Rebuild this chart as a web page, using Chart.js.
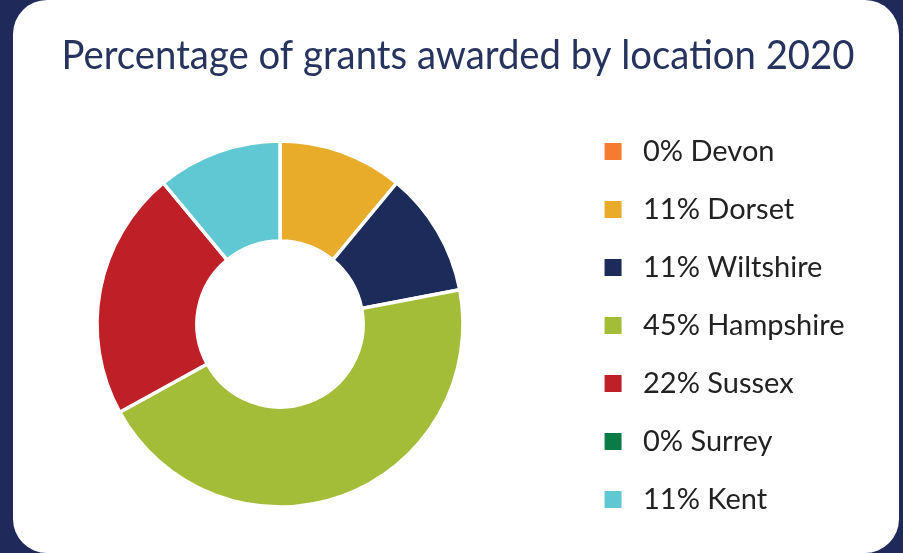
<!DOCTYPE html>
<html>
<head>
<meta charset="utf-8">
<script src="https://cdn.jsdelivr.net/npm/chart.js@4.4.1/dist/chart.umd.min.js"></script>
<style>
    html, body { margin: 0; padding: 0; }
    body { width: 903px; height: 553px; background: #1f2a5b; position: relative; overflow: hidden; }
    .card { position: absolute; left: 13px; top: 0; width: 886px; height: 553px; background: #fff; border-radius: 34px; overflow: hidden; }
</style>
</head>
<body>
<div class="card">
    <canvas id="grants-chart" width="886" height="553"></canvas>
</div>
<script>
// Chart data
const locations = ['Devon', 'Dorset', 'Wiltshire', 'Hampshire', 'Sussex', 'Surrey', 'Kent'];
const percentages = [0, 11, 11, 45, 22, 0, 11];
const sliceColours = ['#f47b30', '#e8ac2a', '#1c2b59', '#a3bd39', '#bf1f26', '#0a7b45', '#5fc8d2'];
const chartTitle = 'Percentage of grants awarded by location 2020';

const legendLabels = locations.map((name, i) => percentages[i] + '% ' + name);
const legendFontSize = 29;
const legendPad = 29;

// widest legend label decides how the side paddings are split
const probe = document.createElement('canvas').getContext('2d');
probe.font = legendFontSize + 'px Lato';
const textW = Math.max(...legendLabels.map(t => probe.measureText(t).width));
const textX = 630;      // where legend text starts
const centreX = 267;    // doughnut centre
const padRight = 886 - 10 - textW - textX;
const padLeft = padRight + 4;
const legendLeft = 2 * centreX - padLeft;
const markerWidth = textX - legendLeft - legendPad - legendFontSize / 2;

// Legend marker: small square at the right end of a transparent strip
function legendMarker(colour) {
    const c = document.createElement('canvas');
    c.width = Math.round(markerWidth);
    c.height = 17;
    const g = c.getContext('2d');
    g.fillStyle = colour;
    g.fillRect(c.width - 24, 0, 17, 17);
    return c;
}

const ctx = document.getElementById('grants-chart').getContext('2d');
const grantsChart = new Chart(ctx, {
    type: 'doughnut',
    data: {
        labels: locations,
        datasets: [{
            data: percentages,
            backgroundColor: sliceColours,
            borderColor: '#ffffff',
            borderWidth: 3.5,
            radius: 183
        }]
    },
    options: {
        responsive: false,
        animation: false,
        cutout: '45.4%',
        layout: {
            padding: { top: 0, bottom: 0, left: padLeft, right: padRight }
        },
        plugins: {
            title: {
                display: true,
                text: chartTitle,
                color: '#26335f',
                font: { family: 'Lato', size: 41, weight: 'normal' },
                padding: { top: 31, bottom: 14.8 }
            },
            legend: {
                position: 'right',
                align: 'start',
                title: {
                    display: true,
                    text: ' ',
                    font: { size: 10 },
                    padding: { top: 96, bottom: 0 }
                },
                labels: {
                    color: '#222222',
                    font: { family: 'Lato', size: legendFontSize },
                    usePointStyle: true,
                    pointStyleWidth: markerWidth,
                    boxHeight: 17,
                    padding: legendPad,
                    generateLabels: function(chart) {
                        return legendLabels.map((text, i) => ({
                            text: text,
                            fillStyle: sliceColours[i],
                            strokeStyle: sliceColours[i],
                            lineWidth: 0,
                            pointStyle: legendMarker(sliceColours[i]),
                            fontColor: '#222222',
                            hidden: false,
                            index: i
                        }));
                    }
                }
            },
            tooltip: { enabled: false }
        }
    }
});
</script>
</body>
</html>
